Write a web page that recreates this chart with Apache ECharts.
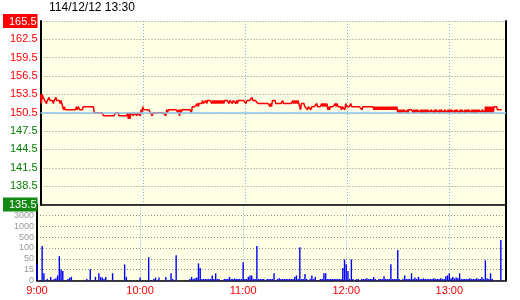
<!DOCTYPE html>
<html><head><meta charset="utf-8">
<script src="https://cdn.jsdelivr.net/npm/echarts@6/dist/echarts.min.js"></script>
<style>html,body{margin:0;padding:0;background:#fff}#c{width:520px;height:300px}</style>
</head><body><div id="c"></div>
<script>
// ---- data (per minute from 9:00, index = minutes after 9:00) ----
const title = '114/12/12 13:30';
const refPrice = 150.5;
const priceTicks = [135.5,138.5,141.5,144.5,147.5,150.5,153.5,156.5,159.5,162.5,165.5];
const timeLabels = ['9:00','10:00','11:00','12:00','13:00'];
const volTickValues = [0,15,50,100,500,1000,3000,6000];
const volTickLabels = ['0','15','50','100','500','1000','3000',''];
const hi = [
153.5,153.5,153.0,152.5,152.5,153.0,152.5,152.5,152.5,153.0,
152.5,152.5,152.5,152.5,151.5,151.0,151.0,151.0,151.0,151.0,
151.0,151.5,151.5,151.0,151.0,151.5,151.5,151.5,151.5,151.5,
151.5,151.5,150.5,150.5,150.5,150.5,150.5,150.0,150.0,150.0,
150.0,150.0,150.0,150.0,150.5,150.5,150.0,150.0,150.0,150.0,
150.0,150.5,150.5,150.5,150.5,150.5,150.5,150.5,150.5,151.0,
151.5,151.0,151.0,151.0,151.0,150.5,150.5,150.5,150.5,150.5,
150.5,150.5,150.5,150.5,151.0,151.0,151.0,151.0,151.0,151.0,
151.0,151.0,151.0,151.0,151.0,151.0,151.0,151.0,151.0,151.5,
151.5,151.5,152.0,152.0,152.0,152.5,152.0,152.5,152.5,152.5,
152.5,152.5,152.5,152.5,152.5,152.5,152.5,152.5,152.5,152.5,
152.5,152.5,152.5,152.5,152.5,152.5,152.5,152.5,152.5,152.5,
152.5,152.5,152.5,152.5,153.0,152.5,152.5,152.5,152.0,152.0,
152.0,152.0,152.0,152.0,152.0,152.0,152.5,152.5,152.0,152.0,
152.0,152.0,152.5,152.0,152.0,152.0,152.0,152.0,152.5,152.5,
152.5,152.5,152.0,152.0,152.0,151.5,151.5,151.5,151.5,151.5,
151.5,151.5,152.0,151.5,151.5,152.0,152.0,152.0,152.0,151.5,
151.5,151.5,151.5,152.0,152.0,151.5,151.5,151.5,151.5,152.0,
151.5,151.5,152.0,151.5,151.5,151.5,151.5,151.5,151.5,151.5,
151.5,151.5,151.5,151.5,151.5,151.5,151.5,151.5,151.5,151.5,
151.5,151.5,151.5,151.5,151.5,151.5,151.5,151.5,151.5,151.5,
151.0,151.0,151.0,151.0,151.0,151.0,151.0,151.0,151.0,151.0,
151.0,151.0,151.0,151.0,151.0,151.0,151.0,151.0,151.0,151.0,
151.0,151.0,151.0,151.0,151.0,151.0,151.0,151.0,151.0,151.0,
151.0,151.0,151.0,151.0,151.0,151.0,151.0,151.0,151.0,151.0,
151.0,151.0,151.0,151.0,151.0,151.0,151.0,151.0,151.0,151.0,
151.0,151.5,151.5,151.5,151.5,151.5,151.5,151.5,151.0,151.0,
151.0];
const lo = [
152.0,153.0,152.5,152.0,152.5,152.5,152.5,152.0,152.5,152.5,
152.5,152.0,152.5,151.0,151.0,151.0,151.0,151.0,151.0,151.0,
151.0,151.0,151.5,151.0,151.0,151.5,151.5,151.5,151.5,151.5,
151.5,150.5,150.5,150.5,150.5,150.5,150.5,150.0,150.0,150.0,
150.0,150.0,150.0,150.0,150.5,150.5,150.0,150.0,150.0,150.0,
150.0,149.5,149.5,150.5,150.0,150.5,150.0,150.5,150.0,150.5,
151.0,151.0,151.0,151.0,150.5,150.0,150.5,150.5,150.5,150.5,
150.5,150.5,150.5,150.0,150.5,151.0,151.0,151.0,151.0,151.0,
150.5,150.0,150.5,151.0,151.0,151.0,151.0,151.0,150.5,151.5,
151.5,151.5,151.5,152.0,152.0,152.0,152.0,152.0,152.5,152.5,
152.0,152.0,152.0,152.0,152.0,152.0,152.0,152.0,152.5,152.5,
152.0,152.5,152.0,152.5,152.0,152.0,152.5,152.5,152.5,152.5,
152.0,152.5,152.5,152.5,152.5,152.5,152.5,152.0,152.0,152.0,
152.0,152.0,152.0,152.0,151.5,151.5,152.5,152.5,152.0,152.0,
152.0,152.0,152.0,152.0,152.0,152.0,152.0,152.0,152.0,152.0,
152.0,152.0,151.0,152.0,152.0,151.5,151.0,151.5,151.0,151.5,
151.5,151.5,151.5,151.5,151.5,151.5,151.5,151.5,151.0,151.0,
151.5,151.5,151.5,151.5,151.5,151.5,151.0,151.5,151.0,151.5,
151.5,151.5,151.5,151.5,151.5,151.5,151.5,151.5,151.0,151.5,
151.5,151.5,151.5,151.5,151.5,151.0,151.0,151.0,151.0,151.0,
151.0,151.0,151.0,151.0,151.0,151.0,151.0,151.0,151.0,150.5,
150.5,150.5,150.5,151.0,150.5,150.5,151.0,151.0,150.5,150.5,
150.5,151.0,150.5,150.5,150.5,150.5,150.5,151.0,150.5,151.0,
150.5,150.5,151.0,150.5,150.5,151.0,150.5,151.0,150.5,150.5,
150.5,151.0,150.5,150.5,151.0,150.5,150.5,151.0,150.5,150.5,
150.5,151.0,150.5,150.5,150.5,150.5,150.5,151.0,150.5,151.0,
150.5,150.5,150.5,150.5,150.5,150.5,151.5,151.5,151.0,151.0,
151.0];
const vol = [
32,0,0,168,10,0,2,0,5,0,
2,3,7,62,16,13,0,0,2,4,
5,0,0,0,0,0,0,0,0,2,
0,16,0,0,5,0,10,5,4,2,
5,0,0,0,10,0,0,0,0,0,
0,32,5,0,0,0,0,0,0,0,
4,0,0,0,0,57,0,0,2,4,
0,4,0,0,0,5,0,0,10,2,
0,66,0,0,0,0,0,0,0,2,
5,2,3,4,35,20,2,2,2,2,
2,2,7,2,10,2,2,0,0,2,
2,2,5,2,2,3,2,2,2,2,
39,2,2,5,7,7,2,2,168,2,
2,2,2,0,2,2,2,2,10,0,
2,3,2,2,2,2,2,2,2,2,
5,7,2,128,2,2,9,2,0,2,
7,2,5,0,0,2,2,10,10,2,
2,2,2,2,2,2,2,2,20,48,
32,13,2,48,2,0,2,2,0,2,
2,2,3,2,2,2,5,2,0,2,
2,2,6,2,2,2,32,2,2,2,
90,2,0,2,7,2,2,2,10,2,
4,2,5,2,2,3,2,2,2,2,
2,3,2,2,2,3,2,2,6,7,
10,3,5,3,4,3,10,2,2,2,
2,2,3,2,2,2,3,2,2,5,
2,45,3,2,10,2,0,0,0,0,
388];

// ---- build series data ----
const priceData = [];
for (let m = 0; m < hi.length; m++) {
  priceData.push([m, hi[m]]);
  priceData.push([m + 0.5, lo[m]]);
}
function volLevel(v) {
  for (let i = 0; i < volTickValues.length - 1; i++) {
    if (v <= volTickValues[i + 1]) return i + (v - volTickValues[i]) / (volTickValues[i + 1] - volTickValues[i]);
  }
  return volTickValues.length - 1;
}
const volData = vol.map((v, m) => [m, volLevel(v)]);

const FONT = 'Liberation Sans';
const vGrid = { show: true, lineStyle: { color: '#7fb0e0', type: [1, 2], width: 1 } };
const hGrid = { show: true, lineStyle: { color: '#8c8c8c', type: [1, 2], width: 1 } };

const chart = echarts.init(document.getElementById('c'), null, { renderer: 'canvas' });
chart.setOption({
  animation: false,
  backgroundColor: '#ffffff',
  title: { text: title, left: 49, top: 2, padding: 0,
    textStyle: { fontSize: 12, fontWeight: 'normal', color: '#000', fontFamily: FONT } },
  grid: [
    { left: 37, right: 14, top: 21, height: 183.5, show: true, backgroundColor: '#ffffe6', borderWidth: 0 },
    { left: 37, right: 14, top: 204.5, height: 76, show: true, backgroundColor: '#ffffe6', borderWidth: 0 }
  ],
  xAxis: [
    { type: 'value', gridIndex: 0, min: 0, max: 273, interval: 60,
      axisLine: { show: true, onZero: false, lineStyle: { color: '#000', width: 1.5 } },
      axisTick: { show: false }, axisLabel: { show: false }, splitLine: vGrid },
    { type: 'value', gridIndex: 1, min: 0, max: 273, interval: 60,
      axisLine: { show: true, onZero: false, lineStyle: { color: '#000', width: 1.5 } },
      axisTick: { show: false },
      axisLabel: { show: true, color: '#ff0000', fontSize: 11, fontFamily: FONT, margin: 5, showMaxLabel: false,
        formatter: v => (v % 60 === 0 ? timeLabels[v / 60] : '') },
      splitLine: vGrid }
  ],
  yAxis: [
    { type: 'value', gridIndex: 0, min: 135.5, max: 165.5,
      axisLine: { show: true, lineStyle: { color: '#000', width: 2 } },
      axisTick: { show: false, customValues: priceTicks },
      axisLabel: { show: true, fontSize: 11, fontFamily: FONT, margin: 3, customValues: priceTicks,
        color: v => (v >= refPrice ? '#ff0000' : '#008000'),
        formatter: v => (v === 165.5 ? '{up|165.5}' : v === 135.5 ? '{dn|135.5}' : v.toFixed(1)),
        rich: {
          up: { backgroundColor: '#ff0000', color: '#ffffff', fontSize: 11, fontFamily: FONT, padding: [2, 1, 1, 6] },
          dn: { backgroundColor: '#138a13', color: '#ffffff', fontSize: 11, fontFamily: FONT, padding: [2, 1, 1, 6] }
        } },
      splitLine: hGrid },
    { type: 'value', gridIndex: 1, min: 0, max: 7, interval: 1,
      axisLine: { show: true, lineStyle: { color: '#000', width: 2 } },
      axisTick: { show: false },
      axisLabel: { show: true, fontSize: 9, fontFamily: FONT, margin: 3, color: '#999999',
        formatter: v => volTickLabels[v] },
      splitLine: hGrid },
    { type: 'value', gridIndex: 0, position: 'right', min: 0, max: 1,
      axisLine: { show: true, lineStyle: { color: '#000', width: 2 } },
      axisTick: { show: false }, axisLabel: { show: false }, splitLine: { show: false } },
    { type: 'value', gridIndex: 1, position: 'right', min: 0, max: 1,
      axisLine: { show: true, lineStyle: { color: '#000', width: 2 } },
      axisTick: { show: false }, axisLabel: { show: false }, splitLine: { show: false } }
  ],
  series: [
    { type: 'line', xAxisIndex: 0, yAxisIndex: 0, data: [], z: 1, silent: true,
      markLine: { silent: true, symbol: 'none', label: { show: false },
        lineStyle: { color: '#8cc4ec', type: 'solid', width: 1.5 },
        data: [{ yAxis: refPrice }] } },
    { type: 'line', xAxisIndex: 0, yAxisIndex: 0, data: priceData, z: 3,
      showSymbol: false, smooth: false,
      lineStyle: { color: '#ff0000', width: 1.5 }, itemStyle: { color: '#ff0000' } },
    { type: 'bar', xAxisIndex: 1, yAxisIndex: 1, data: volData, barWidth: 1.4,
      itemStyle: { color: '#0000ff' } }
  ]
});
</script></body></html>
